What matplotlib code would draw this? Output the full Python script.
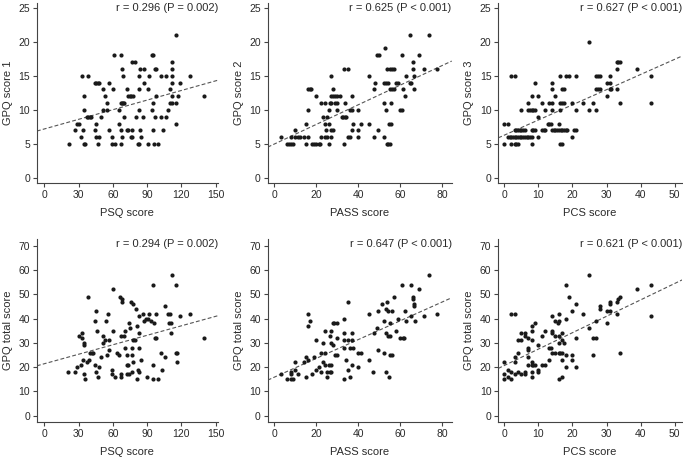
import matplotlib
matplotlib.use('Agg')
import matplotlib.pyplot as plt
import numpy as np

plt.rcParams['font.family'] = ['Liberation Sans', 'DejaVu Sans']

# (score, GPQ) pairs
psq_gpq1 = [(22, 5), (35, 5), (36, 5), (47, 5), (59, 5), (62, 5), (67, 5), (82, 5), (83, 5), (91, 5), (96, 5), (100, 5),
            (32, 6), (45, 6), (48, 6), (59, 6), (68, 6), (76, 6), (77, 6), (85, 6),
            (27, 7), (34, 7), (44, 7), (57, 7), (67, 7), (72, 7), (73, 7), (77, 7), (84, 7), (95, 7), (104, 7),
            (29, 8), (30, 8), (45, 8), (65, 8), (115, 8),
            (37, 9), (38.5, 9), (40, 9), (41, 9), (50, 9), (70, 9), (80, 9), (86, 9), (97, 9), (102, 9), (107, 9),
            (35, 10), (51, 10), (55, 10), (65, 10), (83, 10), (94, 10), (108, 10),
            (55, 11), (67, 11), (68, 11), (69, 11), (70, 11), (95, 11), (110, 11), (112, 11), (115, 11),
            (35, 12), (53, 12), (73, 12), (75, 12), (76, 12), (78, 12), (98, 12), (112, 12), (117, 12), (140, 12),
            (51, 13), (60, 13), (72, 13), (83, 13), (91, 13), (110, 13),
            (44, 14), (45, 14), (47, 14), (48, 14), (57, 14), (87, 14), (112, 14), (119, 14),
            (33, 15), (38, 15), (69, 15), (83, 15), (92, 15), (102, 15), (107, 15), (112, 15), (128, 15),
            (68, 16), (84, 16), (87, 16), (97, 16), (98, 16), (112, 16),
            (77, 17), (79, 17), (112, 17),
            (61, 18), (67, 18), (94, 18), (95, 18),
            (115, 21)]

pass_gpq2 = [(6, 5), (7, 5), (8, 5), (9, 5), (15, 5), (18, 5), (19, 5), (20, 5), (21, 5), (21.5, 5), (26, 5), (33, 5),
             (53.5, 5), (54, 5), (55, 5),
             (3, 6), (8, 6), (10, 6), (11, 6), (12, 6), (14, 6), (16, 6), (22, 6), (24, 6), (25, 6), (27, 6), (35, 6),
             (36, 6), (40, 6), (47.6, 6), (52, 6),
             (10, 7), (24.6, 7), (27, 7), (28, 7), (37, 7), (40, 7), (49.5, 7),
             (15, 8), (24, 8), (26, 8), (37.6, 8), (41, 8), (45, 8), (54.6, 8), (55.4, 8),
             (23, 9), (25, 9), (32, 9), (32.7, 9), (33.4, 9), (34.1, 9),
             (16, 10), (26, 10), (30, 10), (36, 10), (37, 10), (40, 10), (53, 10), (60, 10), (60.6, 10),
             (22, 11), (24, 11), (26.5, 11), (27, 11), (29, 11), (30, 11), (33.6, 11), (52, 11), (55.5, 11),
             (20, 12), (27, 12), (28, 12), (29, 12), (30, 12), (31, 12), (37, 12), (62, 12),
             (16, 13), (17, 13), (17.5, 13), (28, 13), (47.5, 13), (55, 13), (56, 13), (57, 13), (61, 13), (66.6, 13),
             (48, 14), (52, 14), (53, 14), (54, 14), (58, 14), (59, 14), (64.6, 14), (65, 14),
             (27, 15), (45, 15), (62.7, 15), (66.6, 15),
             (33, 16), (35, 16), (53.5, 16), (55, 16), (56, 16), (57, 16), (66, 16), (71.4, 16), (77.6, 16),
             (66, 17),
             (49, 18), (50, 18), (60.6, 18), (69, 18),
             (52.7, 19),
             (64.6, 21), (73.6, 21)]

pcs_gpq3 = [(0, 5), (2, 5), (3, 5), (3.5, 5), (4, 5), (8, 5), (16.4, 5), (17, 5),
            (1, 6), (1.5, 6), (2, 6), (2.5, 6), (3, 6), (3.5, 6), (4, 6), (4.5, 6), (5, 6), (5.5, 6), (6, 6), (6.5, 6),
            (7, 6), (7.5, 6), (8, 6), (10, 6), (20, 6),
            (3, 7), (3.5, 7), (4, 7), (4.5, 7), (5, 7), (5.5, 7), (6, 7), (8, 7), (8.5, 7), (9, 7), (11, 7), (11.5, 7),
            (12, 7), (14, 7), (14.5, 7), (15, 7), (15.5, 7), (16, 7), (16.5, 7), (17, 7), (17.5, 7), (18, 7), (18.5, 7),
            (20.3, 7), (21, 7),
            (0, 8), (1, 8), (12.7, 8), (13.2, 8), (13.7, 8), (16, 8),
            (10, 9),
            (5, 10), (7, 10), (7.5, 10), (8, 10), (8.5, 10), (9, 10), (12, 10), (14, 10), (16.4, 10), (21, 10), (25, 10),
            (27, 10),
            (7, 11), (11, 11), (13, 11), (14, 11), (16.4, 11), (17, 11), (17.4, 11), (20, 11), (23, 11), (26, 11),
            (34, 11), (43, 11),
            (8, 12), (10, 12), (15, 12), (30, 12),
            (14, 13), (17, 13), (17.6, 13), (27, 13), (27.4, 13), (28, 13), (31, 13), (31.4, 13), (33, 13),
            (9, 14), (14, 14), (30, 14), (31, 14),
            (2, 15), (3, 15), (16.4, 15), (18, 15), (19, 15), (21, 15), (27, 15), (27.6, 15), (28, 15), (31, 15), (43, 15),
            (33, 16), (39, 16),
            (33, 17), (33.5, 17), (34, 17),
            (25, 20)]

psq_total = [(21, 18), (27, 18), (29, 20), (30, 33), (32, 21), (33, 34), (33, 32), (35, 30), (35, 29), (35, 17),
             (36, 15), (34, 23), (37, 22), (38, 49), (39, 23), (40, 26), (42, 26), (43, 26), (44, 39), (44, 21),
             (45, 43), (45, 18), (46, 35), (47, 16), (48, 20), (50, 24), (51, 30), (51, 33), (53, 31), (54, 39),
             (55, 25), (56, 42), (57, 27), (57, 31), (59, 19), (59, 17), (60, 52), (60, 35), (62, 16), (64, 26),
             (65, 25), (66, 49), (67, 17), (67, 16), (67, 33), (68, 48), (68, 47), (70, 33), (71, 35), (71, 28),
             (72, 25), (72, 17), (72, 21), (73, 21), (74, 38), (74, 17), (75, 36), (76, 47), (77, 28), (77, 25),
             (77, 18), (78, 22), (78, 31), (78, 46), (79, 31), (80, 44), (81, 15), (81, 37), (82, 19), (83, 18),
             (83, 28), (83, 41), (83, 34), (85, 23), (86, 42), (87, 39), (89, 40), (90, 16), (91, 40), (92, 42),
             (93, 39), (95, 54), (95, 21), (95, 15), (96, 38), (97, 32), (98, 32), (98, 42), (100, 15), (102, 26),
             (103, 19), (106, 45), (106, 24), (108, 42), (109, 38), (110, 42), (111, 38), (111, 34), (112, 58),
             (115, 54), (115, 26), (116, 22), (116, 26), (119, 41), (128, 42), (140, 32)]

pass_total = [(3, 17), (6, 15), (8, 18), (8, 17), (8, 15), (9, 15), (10, 22), (10, 19), (11, 17), (14, 22), (15, 24),
              (15, 16), (16, 23), (16, 42), (16, 37), (17, 39), (18, 17), (19, 24), (20, 31), (20, 19), (21, 20),
              (22, 26), (22, 18), (23, 30), (23, 22), (24, 35), (24, 21), (24, 26), (25, 18), (25, 16), (26, 21),
              (26.5, 33), (26.5, 18), (27, 21), (27, 35), (27, 30), (27, 18), (28, 29), (28, 38), (28.5, 38), (29, 25),
              (30, 25), (30, 38), (30, 32), (33, 31), (33, 40), (33, 34), (33, 15), (33, 28), (34, 23), (35, 47),
              (35, 31), (35, 19), (36, 28), (36, 16), (37, 31), (37, 34), (37, 21), (37.6, 28), (40, 26), (40, 20),
              (41, 26), (45, 42), (45, 23), (47, 18), (47.6, 34), (49, 36), (49.5, 43), (49.5, 27), (51, 46), (52, 26),
              (52, 39), (53, 44), (53, 34), (53, 18), (53.5, 47), (54, 33), (54, 43), (54.6, 16), (55, 25), (55, 38),
              (55, 33), (56, 43), (56, 25), (57, 49), (58, 35), (59, 40), (60, 32), (60.6, 54), (61, 32), (61.7, 32),
              (62, 43), (62.5, 39), (65, 41), (65, 54), (66, 48), (66, 49), (66.6, 45), (66.6, 46), (67, 39), (69, 52),
              (71.4, 41), (73.6, 58), (77.6, 42)]

pcs_total = [(0, 22), (0, 17), (0, 15), (1, 19), (1, 16), (2, 15), (2, 18), (2, 42), (3, 42), (3, 22), (3, 17),
             (3, 24), (4, 26), (4, 31), (4, 18), (5, 31), (5, 34), (5, 17), (6, 17), (6, 34), (6, 33), (6, 18),
             (7, 32), (7, 28), (7, 27), (7, 24), (7, 21), (8, 21), (8, 37), (8, 35), (8, 31), (8, 22), (8, 18),
             (8, 16), (8.5, 21), (9, 38), (9, 21), (10, 29), (10, 19), (10, 18), (11, 33), (11, 21), (12, 35),
             (12, 21), (13, 23), (13, 28), (13.7, 28), (14, 41), (14, 35), (14, 34), (14, 26), (15, 39), (15, 33),
             (15, 26), (15.7, 38), (16, 42), (16, 39), (16, 33), (16, 30), (16, 26), (16, 15), (16.4, 26), (17, 16),
             (17, 23), (17, 31), (17, 34), (17, 26), (17.6, 30), (18, 54), (18, 40), (18, 25), (18, 20), (19, 49),
             (20, 43), (20, 25), (20, 23), (21, 46), (21, 32), (21, 20), (23, 42), (25, 36), (25, 58), (26, 25),
             (26, 32), (27, 32), (27, 39), (28, 44), (28, 45), (30, 38), (30, 43), (31, 43), (31, 46), (31, 47),
             (33, 42), (33, 47), (33.5, 48), (34, 49), (34, 26), (39, 52), (43, 54), (43, 41)]

# regression lines (intercept, slope) and correlation labels
fit_lines = [(7.2, 0.047), (5.0, 0.144), (6.3, 0.222), (21.4, 0.130), (15.9, 0.387), (20.7, 0.674)]
r_labels = ['r = 0.296 (P = 0.002)', 'r = 0.625 (P < 0.001)', 'r = 0.627 (P < 0.001)',
            'r = 0.294 (P = 0.002)', 'r = 0.647 (P < 0.001)', 'r = 0.621 (P < 0.001)']
x_labels = ['PSQ score', 'PASS score', 'PCS score'] * 2
y_labels = ['GPQ score 1', 'GPQ score 2', 'GPQ score 3',
            'GPQ total score', 'GPQ total score', 'GPQ total score']
x_ticks = [[0, 30, 60, 90, 120, 150], [0, 20, 40, 60, 80], [0, 10, 20, 30, 40, 50]] * 2
x_lims = [(-6.5, 152), (-3.2, 84.4), (-1.8, 52.2)] * 2
data = [psq_gpq1, pass_gpq2, pcs_gpq3, psq_total, pass_total, pcs_total]

fig = plt.figure(figsize=(6.83, 4.58), dpi=100)
lefts = [0.054, 0.392, 0.7296]
widths = [0.265, 0.2694, 0.269]
rows = [(0.600, 0.394), (0.079, 0.399)]

axc = '#444444'
txt = '#2a2a2a'
for i in range(6):
    row, col = divmod(i, 3)
    ax = fig.add_axes([lefts[col], rows[row][0], widths[col], rows[row][1]])
    x, y = zip(*data[i])
    ax.scatter(x, y, s=9, color='#1a1a1a', linewidths=0, zorder=3)
    ax.set_xlim(*x_lims[i])
    if row == 0:
        ax.set_ylim(-0.75, 25.7)
        ax.set_yticks([0, 5, 10, 15, 20, 25])
    else:
        ax.set_ylim(-2.5, 72.7)
        ax.set_yticks([0, 10, 20, 30, 40, 50, 60, 70])
    ax.set_xticks(x_ticks[i])
    b, m = fit_lines[i]
    xs = np.array(ax.get_xlim())
    ax.plot(xs, b + m * xs, color='#555555', lw=0.8, dashes=(3.5, 2), zorder=2)
    ax.text(1.0, 1.0, r_labels[i], transform=ax.transAxes, ha='right', va='top',
            fontsize=8, color=txt)
    ax.set_xlabel(x_labels[i], fontsize=8, color=txt, labelpad=6)
    ax.set_ylabel(y_labels[i], fontsize=8, color=txt, labelpad=4)
    for s in ['top', 'right']:
        ax.spines[s].set_visible(False)
    for s in ['left', 'bottom']:
        ax.spines[s].set_color(axc)
        ax.spines[s].set_linewidth(0.8)
    ax.tick_params(direction='out', length=3, width=0.8, colors=axc,
                   labelsize=7.5, labelcolor=txt, pad=2)

fig.savefig('out.png', dpi=100)
